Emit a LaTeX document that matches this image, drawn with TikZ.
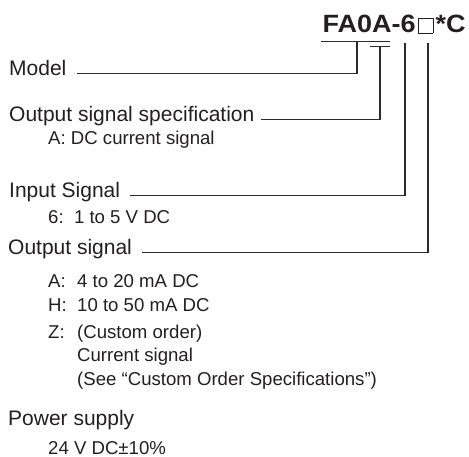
\documentclass[tikz,border=0pt]{standalone}
\usepackage{fontspec}
\setmainfont{Liberation Sans}
\newfontfamily\titlefont[FakeStretch=1.08]{Liberation Sans Bold}
\newcommand{\opensq}{\kern2pt{\fboxsep=0pt\fboxrule=0.85pt\fbox{\rule{0pt}{14.4pt}\rule{14pt}{0pt}}}\kern2.2pt}
\begin{document}
\begin{tikzpicture}[x=1pt,y=-1pt,
  big/.style={anchor=base west,inner sep=0pt,font=\fontsize{21}{25}\selectfont,text=txt},
  small/.style={anchor=base west,inner sep=0pt,font=\fontsize{18.6}{22}\selectfont,text=txt},
  conn/.style={draw=ln,line width=1.1pt},
]
\definecolor{txt}{HTML}{231F20}
\definecolor{ln}{HTML}{2B2B2B}
\useasboundingbox (0,0) rectangle (469,457);
% title
\node[anchor=base west,inner sep=0pt,font=\fontsize{25}{30}\titlefont,text=txt] (title) at (322.5,33) {FA0A-6\opensq*C};
% labels
\node[big] (model) at (9,76) {Model};
\node[big] (ospec) at (9,121.7) {Output signal specification};
\node[small] (ospecA) at (48,145) {A: DC current signal};
\node[big] (insig) at (9,198) {Input Signal};
\node[small] (in6) at (48,224) {6:\ \ 1 to 5 V DC};
\node[big] (osig) at (8,255) {Output signal};
\node[small] (oA) at (48,288) {\makebox[29pt][l]{A:}4 to 20 mA DC};
\node[small] (oH) at (48,312) {\makebox[29pt][l]{H:}10 to 50 mA DC};
\node[small] (oZ) at (48,338) {\makebox[29pt][l]{Z:}(Custom order)};
\node[small] (oZ2) at (77,362) {Current signal};
\node[small] (oZ3) at (77,385) {(See “Custom Order Specifications”)};
\node[big] (pow) at (8,425) {Power supply};
\node[small] (pow24) at (48,454.5) {24 V DC±10\%};
% code marks
\coordinate (u1) at (321,41.7);
\coordinate (u2) at (390,41.7);
\coordinate (b1) at (370,46.7);
\coordinate (b2) at (390,46.7);
\coordinate (v1) at (357,41.7);
\coordinate (v2) at (380,46.7);
\coordinate (v3) at (405,42.7);
\coordinate (v4) at (428,42.7);
\draw[conn] (u1) -- (u2);
\draw[conn] (b1) -- (b2);
\draw[conn] ([xshift=10pt]model.mid east) -| (v1);
\draw[conn] ([xshift=6pt]ospec.mid east) -| (v2);
\draw[conn] ([xshift=10pt]insig.mid east) -| (v3);
\draw[conn] ([xshift=10pt]osig.mid east) -| (v4);
\end{tikzpicture}
\end{document}
